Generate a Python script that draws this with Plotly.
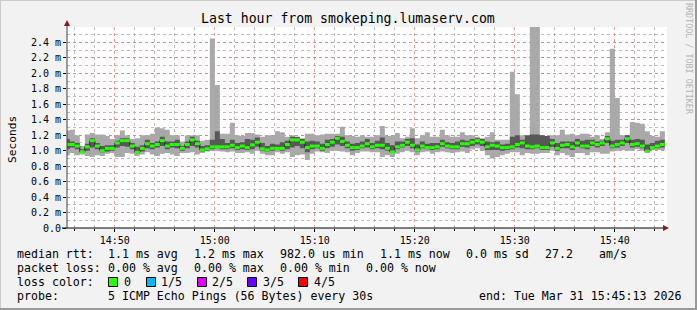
import plotly.graph_objects as go
import pandas as pd

# ---------------- data (values in milliseconds) ----------------
TITLE = "Last hour from smokeping.lumaserv.com"
START = "2026-03-31 14:45:00"
STEP = "30s"
X_RANGE = ["2026-03-31 14:45:13", "2026-03-31 15:45:13"]
Y_RANGE = [0.0, 2.6]

rtt_min = [0.94, 0.97, 0.94, 0.95, 0.93, 0.92, 0.94, 0.93, 0.96, 0.97,
           0.92, 0.92, 0.97, 0.96, 0.93, 0.95, 0.98, 0.95, 0.93, 0.96,
           0.97, 0.95, 0.93, 0.97, 0.97, 0.98, 0.95, 0.97, 0.99, 1.00,
           1.00, 0.99, 0.98, 0.99, 0.97, 0.97, 0.98, 0.96, 1.00, 0.96,
           0.94, 0.94, 0.98, 0.96, 0.98, 0.92, 0.94, 0.95, 0.88, 0.96,
           0.99, 0.98, 0.97, 1.00, 1.00, 0.99, 0.98, 0.94, 0.97, 0.99,
           0.99, 0.98, 0.98, 0.92, 0.94, 0.92, 0.96, 0.98, 1.00, 0.98,
           0.94, 0.98, 0.99, 0.96, 0.98, 0.99, 0.98, 0.97, 0.98, 0.99,
           0.97, 1.02, 1.03, 1.00, 0.94, 0.90, 0.92, 0.94, 0.96, 0.98,
           0.98, 0.94, 0.97, 0.96, 0.96, 0.97, 0.97, 1.00, 0.94, 0.97,
           0.94, 0.92, 0.97, 0.97, 0.94, 0.98, 0.98, 0.96, 0.96, 0.99,
           1.00, 1.01, 1.00, 1.00, 1.02, 1.00, 0.97, 1.01, 1.01, 1.01]

rtt_q1 = [1.02, 1.04, 1.02, 0.97, 1.00, 1.04, 1.02, 0.98, 0.99, 1.00,
          1.04, 1.06, 1.05, 1.02, 0.97, 0.99, 1.03, 1.02, 1.04, 1.06,
          1.02, 1.04, 1.03, 1.00, 1.03, 1.06, 1.04, 0.99, 1.00, 1.02,
          1.03, 1.02, 1.02, 1.03, 1.01, 1.02, 1.01, 1.02, 1.05, 1.00,
          0.99, 1.00, 1.01, 1.00, 1.02, 1.04, 1.06, 1.03, 0.98, 1.02,
          1.03, 1.00, 1.03, 1.05, 1.08, 1.06, 1.03, 1.00, 1.01, 1.03,
          1.04, 1.02, 1.03, 1.02, 1.00, 0.97, 1.02, 1.04, 1.06, 1.03,
          0.99, 1.03, 1.02, 1.01, 1.02, 1.05, 1.03, 1.02, 1.02, 1.05,
          1.04, 1.06, 1.08, 1.06, 1.01, 1.01, 1.01, 1.00, 1.01, 1.02,
          1.04, 1.03, 1.02, 1.02, 1.03, 1.01, 1.01, 1.05, 1.00, 1.03,
          1.03, 1.01, 1.05, 1.03, 1.02, 1.06, 1.04, 1.06, 1.10, 1.03,
          1.04, 1.06, 1.10, 1.04, 1.05, 1.03, 0.99, 1.02, 1.03, 1.04]

rtt_median = [1.08, 1.08, 1.06, 0.985, 1.05, 1.13, 1.06, 1.00, 1.03, 1.03,
              1.10, 1.13, 1.13, 1.06, 0.98, 1.03, 1.09, 1.06, 1.08, 1.13,
              1.06, 1.08, 1.08, 1.03, 1.08, 1.14, 1.09, 1.01, 1.025, 1.05,
              1.05, 1.05, 1.05, 1.07, 1.04, 1.06, 1.04, 1.075, 1.11, 1.025,
              1.01, 1.03, 1.03, 1.03, 1.08, 1.14, 1.14, 1.11, 1.04, 1.06,
              1.06, 1.03, 1.08, 1.11, 1.16, 1.12, 1.07, 1.04, 1.04, 1.06,
              1.09, 1.05, 1.07, 1.07, 1.03, 0.985, 1.05, 1.07, 1.11, 1.07,
              1.01, 1.06, 1.04, 1.04, 1.05, 1.09, 1.06, 1.05, 1.05, 1.09,
              1.09, 1.11, 1.13, 1.11, 1.05, 1.07, 1.06, 1.04, 1.04, 1.05,
              1.08, 1.10, 1.06, 1.05, 1.06, 1.04, 1.04, 1.10, 1.03, 1.07,
              1.08, 1.05, 1.10, 1.06, 1.06, 1.10, 1.08, 1.10, 1.155, 1.06,
              1.08, 1.10, 1.155, 1.08, 1.09, 1.06, 0.995, 1.04, 1.06, 1.08]

rtt_q3 = [1.15, 1.12, 1.10, 1.02, 1.09, 1.16, 1.10, 1.06, 1.07, 1.07,
          1.13, 1.16, 1.16, 1.10, 1.05, 1.07, 1.14, 1.10, 1.12, 1.18,
          1.12, 1.12, 1.14, 1.06, 1.12, 1.18, 1.13, 1.06, 1.07, 1.14,
          1.25, 1.15, 1.10, 1.14, 1.10, 1.11, 1.15, 1.14, 1.17, 1.10,
          1.06, 1.09, 1.08, 1.11, 1.13, 1.18, 1.18, 1.15, 1.12, 1.13,
          1.12, 1.09, 1.14, 1.15, 1.19, 1.18, 1.12, 1.09, 1.10, 1.12,
          1.15, 1.10, 1.13, 1.17, 1.10, 1.07, 1.12, 1.12, 1.15, 1.16,
          1.08, 1.12, 1.09, 1.10, 1.10, 1.14, 1.11, 1.10, 1.12, 1.14,
          1.13, 1.15, 1.16, 1.15, 1.12, 1.11, 1.12, 1.08, 1.09, 1.18,
          1.20, 1.14, 1.20, 1.21, 1.21, 1.20, 1.19, 1.15, 1.10, 1.12,
          1.12, 1.12, 1.15, 1.13, 1.14, 1.14, 1.12, 1.13, 1.19, 1.13,
          1.14, 1.14, 1.20, 1.14, 1.15, 1.14, 1.08, 1.10, 1.13, 1.14]

rtt_max = [1.26, 1.27, 1.20, 1.06, 1.21, 1.23, 1.21, 1.21, 1.19, 1.15,
           1.20, 1.26, 1.20, 1.15, 1.16, 1.20, 1.20, 1.22, 1.30, 1.29,
           1.27, 1.20, 1.20, 1.12, 1.20, 1.20, 1.20, 1.13, 1.14, 2.45,
           1.85, 1.22, 1.22, 1.36, 1.20, 1.19, 1.23, 1.23, 1.21, 1.18,
           1.20, 1.20, 1.25, 1.24, 1.18, 1.20, 1.16, 1.16, 1.22, 1.22,
           1.20, 1.21, 1.22, 1.22, 1.22, 1.31, 1.20, 1.19, 1.18, 1.20,
           1.18, 1.18, 1.20, 1.32, 1.19, 1.19, 1.23, 1.16, 1.18, 1.29,
           1.16, 1.20, 1.24, 1.18, 1.18, 1.27, 1.20, 1.18, 1.18, 1.24,
           1.20, 1.20, 1.18, 1.16, 1.18, 1.24, 1.14, 1.14, 1.14, 2.02,
           1.73, 1.20, 1.14, 2.90, 2.90, 1.20, 1.18, 1.20, 1.20, 1.27,
           1.21, 1.22, 1.20, 1.22, 1.22, 1.18, 1.20, 1.15, 1.24, 2.32,
           1.68, 1.20, 1.20, 1.37, 1.36, 1.35, 1.25, 1.19, 1.18, 1.25]

Y_TICKVALS = [0.0, 0.2, 0.4, 0.6, 0.8, 1.0, 1.2, 1.4, 1.6, 1.8, 2.0, 2.2, 2.4]
Y_TICKTEXT = ["0.0", "0.2 m", "0.4 m", "0.6 m", "0.8 m", "1.0 m", "1.2 m",
              "1.4 m", "1.6 m", "1.8 m", "2.0 m", "2.2 m", "2.4 m"]

RTT_STATS = ["median rtt:", "1.1 ms avg", "1.2 ms max", "982.0 us min",
             "1.1 ms now", "0.0 ms sd", "27.2", "am/s"]
LOSS_STATS = ["packet loss:", "0.00 % avg", "0.00 % max", "0.00 % min", "0.00 % now"]
LOSS_LABELS = ["0", "1/5", "2/5", "3/5", "4/5"]
LOSS_COLORS = ["#26ff00", "#00b8ff", "#dd00ff", "#6a00ff", "#ff0000"]
PROBE_TEXT = "5 ICMP Echo Pings (56 Bytes) every 30s"
END_TEXT = "end: Tue Mar 31 15:45:13 2026"

# ---------------- layout geometry (pixels) ----------------
W, H = 697, 310
PL, PR, PT, PB = 67, 667, 27, 228
MONO = "DejaVu Sans Mono"


def px(x):
    return (x - PL) / (PR - PL)


def py(y):
    return (PB - y) / (PB - PT)


times = pd.date_range(START, periods=len(rtt_median) + 1, freq=STEP)


def stepped(v):
    return list(v) + [v[-1]]


fig = go.Figure()
# light smoke (min..max)
fig.add_trace(go.Scatter(x=times, y=stepped(rtt_min), mode="lines", line=dict(width=0, shape="hv"),
                         hoverinfo="skip", showlegend=False))
fig.add_trace(go.Scatter(x=times, y=stepped(rtt_max), mode="lines", line=dict(width=0, shape="hv"),
                         fill="tonexty", fillcolor="#a9a9a9", hoverinfo="skip", showlegend=False))
# dark smoke (inner quartiles)
fig.add_trace(go.Scatter(x=times, y=stepped(rtt_q1), mode="lines", line=dict(width=0, shape="hv"),
                         hoverinfo="skip", showlegend=False))
fig.add_trace(go.Scatter(x=times, y=stepped(rtt_q3), mode="lines", line=dict(width=0, shape="hv"),
                         fill="tonexty", fillcolor="#585858", hoverinfo="skip", showlegend=False))
# thin dark median connector
fig.add_trace(go.Scatter(x=times, y=stepped(rtt_median), mode="lines",
                         line=dict(width=1, shape="hv", color="#202020"),
                         hoverinfo="skip", showlegend=False))
# green median segments (loss colour 0)
seg_x, seg_y = [], []
for i, m in enumerate(rtt_median):
    seg_x += [times[i], times[i + 1], None]
    seg_y += [m, m, None]
fig.add_trace(go.Scatter(x=seg_x, y=seg_y, mode="lines", line=dict(width=3, color=LOSS_COLORS[0]),
                         hoverinfo="skip", showlegend=False, connectgaps=False))

MAJ_GRID = "rgba(225,120,120,0.75)"
MIN_GRID = "rgba(170,170,170,0.8)"

fig.update_xaxes(
    type="date", range=X_RANGE, tickformat="%H:%M",
    tick0="2026-03-31 14:50:00", dtick=600000,
    showgrid=True, gridcolor=MAJ_GRID, griddash="dot", gridwidth=1,
    ticks="outside", ticklen=3, tickcolor="#000",
    minor=dict(dtick=120000, tick0="2026-03-31 14:50:00", showgrid=True, gridcolor=MIN_GRID,
               griddash="dot", ticks="outside", ticklen=2, tickcolor="#000"),
    showline=False, zeroline=False,
    tickfont=dict(family=MONO, size=10, color="#000"),
)
fig.update_yaxes(
    range=Y_RANGE, tickmode="array", tickvals=Y_TICKVALS, ticktext=Y_TICKTEXT,
    showgrid=True, gridcolor=MAJ_GRID, griddash="dot", gridwidth=1,
    ticks="outside", ticklen=3, tickcolor="#000",
    minor=dict(dtick=0.1, tick0=0, showgrid=True, gridcolor=MIN_GRID, griddash="dot",
               ticks="", ticklen=0),
    showline=False, zeroline=False,
    tickfont=dict(family=MONO, size=10, color="#000"),
)

shapes = []
# axis lines
shapes.append(dict(type="line", xref="paper", yref="paper", x0=px(PL), x1=px(PL),
                   y0=py(PB), y1=py(22), line=dict(color="#404040", width=1), layer="above"))
shapes.append(dict(type="line", xref="paper", yref="paper", x0=px(62), x1=px(664),
                   y0=py(PB), y1=py(PB), line=dict(color="#000", width=1), layer="above"))
# arrows
shapes.append(dict(type="path", xref="paper", yref="paper",
                   path=f"M {px(PL-3)} {py(26)} L {px(PL+3)} {py(26)} L {px(PL)} {py(20)} Z",
                   fillcolor="#8b1a1a", line=dict(width=0), layer="above"))
shapes.append(dict(type="path", xref="paper", yref="paper",
                   path=f"M {px(663)} {py(PB-3)} L {px(663)} {py(PB+3)} L {px(669)} {py(PB)} Z",
                   fillcolor="#8b1a1a", line=dict(width=0), layer="above"))
# frame
shapes.append(dict(type="line", xref="paper", yref="paper", x0=px(0), x1=px(W),
                   y0=py(0.5), y1=py(0.5), line=dict(color="#cbcbcb", width=1)))
shapes.append(dict(type="line", xref="paper", yref="paper", x0=px(0.5), x1=px(0.5),
                   y0=py(0), y1=py(H), line=dict(color="#cbcbcb", width=1)))
shapes.append(dict(type="line", xref="paper", yref="paper", x0=px(W - 1), x1=px(W - 1),
                   y0=py(0), y1=py(H), line=dict(color="#999999", width=2)))
shapes.append(dict(type="line", xref="paper", yref="paper", x0=px(0), x1=px(W),
                   y0=py(H - 1), y1=py(H - 1), line=dict(color="#999999", width=2)))

annots = []


def text(x, y, s, size=11.6, color="#000", anchor="left", angle=0):
    annots.append(dict(xref="paper", yref="paper", x=px(x), y=py(y), text=s, showarrow=False,
                       xanchor=anchor, yanchor="middle", textangle=angle, borderpad=0,
                       font=dict(family=MONO, size=size, color=color)))


text(348, 19, TITLE, size=13.2, anchor="center")
text(12, 140, "Seconds", size=11.2, anchor="center", angle=-90)
text(689, 59, "RRDTOOL / TOBI OETIKER", size=8.4, color="#b4b4b4", anchor="center", angle=90)

row1_x = [16, 107, 193, 279, 379, 465, 544, 598]
for xx, s in zip(row1_x, RTT_STATS):
    text(xx, 254, s)
row2_x = [16, 107, 193, 279, 365]
for xx, s in zip(row2_x, LOSS_STATS):
    text(xx, 268, s)
text(16, 282, "loss color:")
box_x = [108, 146, 197, 247, 298]
lab_x = [123, 160, 211, 262, 313]
for bx, lx, lab, col in zip(box_x, lab_x, LOSS_LABELS, LOSS_COLORS):
    shapes.append(dict(type="rect", xref="paper", yref="paper", x0=px(bx + 0.5), x1=px(bx + 9.5),
                       y0=py(286.5), y1=py(277.5), fillcolor=col, line=dict(color="#000", width=1)))
    text(lx, 282, lab)
text(16, 296, "probe:")
text(107, 296, PROBE_TEXT)
text(478, 296, END_TEXT)

fig.update_layout(
    width=W, height=H, margin=dict(l=PL, r=W - PR, t=PT, b=H - PB),
    paper_bgcolor="#f2f2f2", plot_bgcolor="#ffffff",
    shapes=shapes, annotations=annots, showlegend=False, hovermode=False,
)

fig.write_html("out.html")
